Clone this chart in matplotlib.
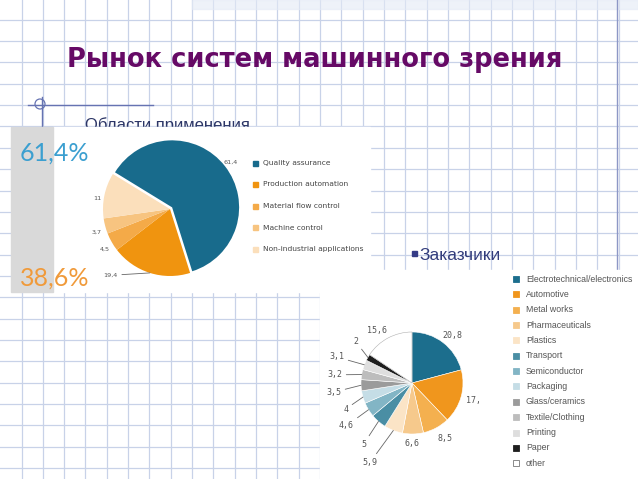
import numpy as np
import matplotlib
matplotlib.use('Agg')
import matplotlib.pyplot as plt
from matplotlib.patches import Rectangle, Circle

# Data
# ------------------------------------------------------------------------

title = 'Рынок систем машинного зрения'
subtitle_apps = 'Области применения'
subtitle_cust = 'Заказчики'

share_top = '61,4%'
share_bottom = '38,6%'

app_labels = ['Quality assurance', 'Production automation', 'Material flow control',
              'Machine control', 'Non-industrial applications']
app_values = [61.4, 19.4, 4.5, 3.7, 11]
app_value_text = ['61,4', '19,4', '4,5', '3,7', '11']
app_colors = ['#186b8c', '#f0940f', '#f4aa48', '#f7c480', '#fbdfbb']

cust_labels = ['Electrotechnical/electronics', 'Automotive', 'Metal works', 'Pharmaceuticals',
               'Plastics', 'Transport', 'Semiconductor', 'Packaging', 'Glass/ceramics',
               'Textile/Clothing', 'Printing', 'Paper', 'other']
cust_values = [20.8, 17, 8.5, 6.6, 5.9, 5, 4.6, 4, 3.5, 3.2, 3.1, 2, 15.6]
cust_value_text = ['20,8', '17,', '8,5', '6,6', '5,9', '5', '4,6', '4', '3,5', '3,2', '3,1', '2', '15,6']
cust_colors = ['#1c6e8d', '#f0961d', '#f4b04f', '#f6c98c', '#fbe4c6', '#4a8ea4', '#82b5c5',
               '#c5dde6', '#9b9b9b', '#bdbdbd', '#dedede', '#1e1e1e', '#ffffff']

# label placement (pie units) and whether a leader line is drawn
app_label_pos = [(0.90, 0.70), (-0.78, -0.99), (-0.97, -0.60), (-1.09, -0.34), (-1.09, 0.15)]
app_leader = [False, True, False, False, False]
cust_label_pos = [(0.80, 0.94), (1.20, -0.35), (0.65, -1.08), (0.0, -1.18), (-0.67, -1.55),
                  (-0.90, -1.20), (-1.14, -0.84), (-1.25, -0.51), (-1.39, -0.18),
                  (-1.37, 0.16), (-1.33, 0.51), (-1.06, 0.82), (-0.69, 1.02)]
cust_leader = [False, False, False, False, True, True, True, True, True, True, True, True, False]

# Figure
# ------------------------------------------------------------------------

W, H = 638, 479
fig = plt.figure(figsize=(W / 100, H / 100), dpi=100)
fig.patch.set_facecolor('white')

bg = fig.add_axes([0, 0, 1, 1])
bg.set_xlim(0, W)
bg.set_ylim(H, 0)
bg.set_axis_off()

grid_c = '#c8d2e8'
for x in np.arange(21.5, W, 21.33):
    bg.plot([x, x], [0, H], color=grid_c, lw=0.9, zorder=1)
for y in np.arange(19.7, H, 21.35):
    bg.plot([0, W], [y, y], color=grid_c, lw=0.9, zorder=1)

bg.add_patch(Rectangle((192, 0), W - 192, 9, color='#e4eaf6', alpha=0.6, zorder=2))
bg.plot([617, 617], [0, H], color='#8d97c6', lw=1.0, zorder=2)

# left margin marker
bg.plot([28, 153], [105, 105], color='#6673b2', lw=1.0, zorder=3)
bg.plot([42, 42], [97, 127], color='#6673b2', lw=1.0, zorder=3)
bg.add_patch(Circle((40, 104), 5, fill=False, ec='#6673b2', lw=0.9, zorder=3))

bg.text(67, 67, title, fontsize=18.5, fontweight='bold', color='#660a66',
        family='DejaVu Sans', ha='left', va='baseline', zorder=3)
bg.text(85, 130, subtitle_apps, fontsize=12, color='#2b3566',
        family='Liberation Sans', ha='left', va='baseline', zorder=3)

# images (white panels)
bg.add_patch(Rectangle((53, 127), 317, 165, color='white', zorder=4))
bg.add_patch(Rectangle((11, 127), 42, 165, color='#d9d9d9', zorder=4))
bg.add_patch(Rectangle((320, 270), W - 320, H - 270, color='white', zorder=4))

bg.text(20, 161, share_top, fontsize=18, color='#3b9fd0', family='Lato',
        ha='left', va='baseline', zorder=5)
bg.text(20, 286, share_bottom, fontsize=18, color='#f09a3a', family='Lato',
        ha='left', va='baseline', zorder=5)

bg.add_patch(Rectangle((412, 251), 5, 5, color='#353b86', zorder=3))
bg.text(419, 260, subtitle_cust, fontsize=12.5, color='#333d7c',
        family='Liberation Sans', ha='left', va='baseline', zorder=3)

# legends
for i, (lab, col) in enumerate(zip(app_labels, app_colors)):
    y = 163 + i * 21.5
    bg.add_patch(Rectangle((253, y - 2.5), 5, 5, color=col, zorder=5))
    bg.text(263, y, lab, fontsize=5.4, color='#444444', family='DejaVu Sans',
            ha='left', va='center', zorder=5)

for i, (lab, col) in enumerate(zip(cust_labels, cust_colors)):
    y = 279 + i * 15.35
    bg.add_patch(Rectangle((513, y - 3), 6, 6, fc=col, ec='#777777' if col == '#ffffff' else col,
                           lw=0.6, zorder=5))
    bg.text(526, y, lab, fontsize=6.3, color='#555555', family='Liberation Sans',
            ha='left', va='center', zorder=5)


def pie_axes(cx, cy, r, L=1.8):
    s = 2 * L * r
    ax = fig.add_axes([(cx - s / 2) / W, (H - cy - s / 2) / H, s / W, s / H])
    return ax, L


def draw_labels(ax, wedges, texts, positions, leaders, fs, family):
    for w, t, pos, lead in zip(wedges, texts, positions, leaders):
        mid = np.deg2rad((w.theta1 + w.theta2) / 2)
        cx, cy = w.center
        edge = (cx + np.cos(mid) * w.r, cy + np.sin(mid) * w.r)
        ha = 'right' if lead and pos[0] < 0 else 'center'
        ax.annotate(t, xy=edge, xytext=pos, fontsize=fs, color='#555555', family=family,
                    ha=ha, va='center',
                    arrowprops=dict(arrowstyle='-', color='#666666', lw=0.6,
                                    shrinkA=1, shrinkB=0) if lead else None)


# Pie 1
# ------------------------------------------------------------------------

ax1, L1 = pie_axes(170, 209, 67)
w1, _ = ax1.pie(app_values, colors=app_colors, startangle=148.5, counterclock=False,
                explode=[0.04, 0, 0, 0, 0], wedgeprops=dict(linewidth=0))
draw_labels(ax1, w1, app_value_text, app_label_pos, app_leader, 4.6, 'DejaVu Sans')
ax1.set_xlim(-L1, L1)
ax1.set_ylim(-L1, L1)
ax1.set_aspect('equal')
ax1.set_axis_off()

# Pie 2
# ------------------------------------------------------------------------

ax2, L2 = pie_axes(412, 383, 51)
w2, _ = ax2.pie(cust_values, colors=cust_colors, startangle=90, counterclock=False,
                wedgeprops=dict(linewidth=0.4, edgecolor='white'))
w2[-1].set_edgecolor('#b0b0b0')
draw_labels(ax2, w2, cust_value_text, cust_label_pos, cust_leader, 6, 'DejaVu Sans Mono')
ax2.set_xlim(-L2, L2)
ax2.set_ylim(-L2, L2)
ax2.set_aspect('equal')
ax2.set_axis_off()

plt.savefig('out.png', dpi=100)
